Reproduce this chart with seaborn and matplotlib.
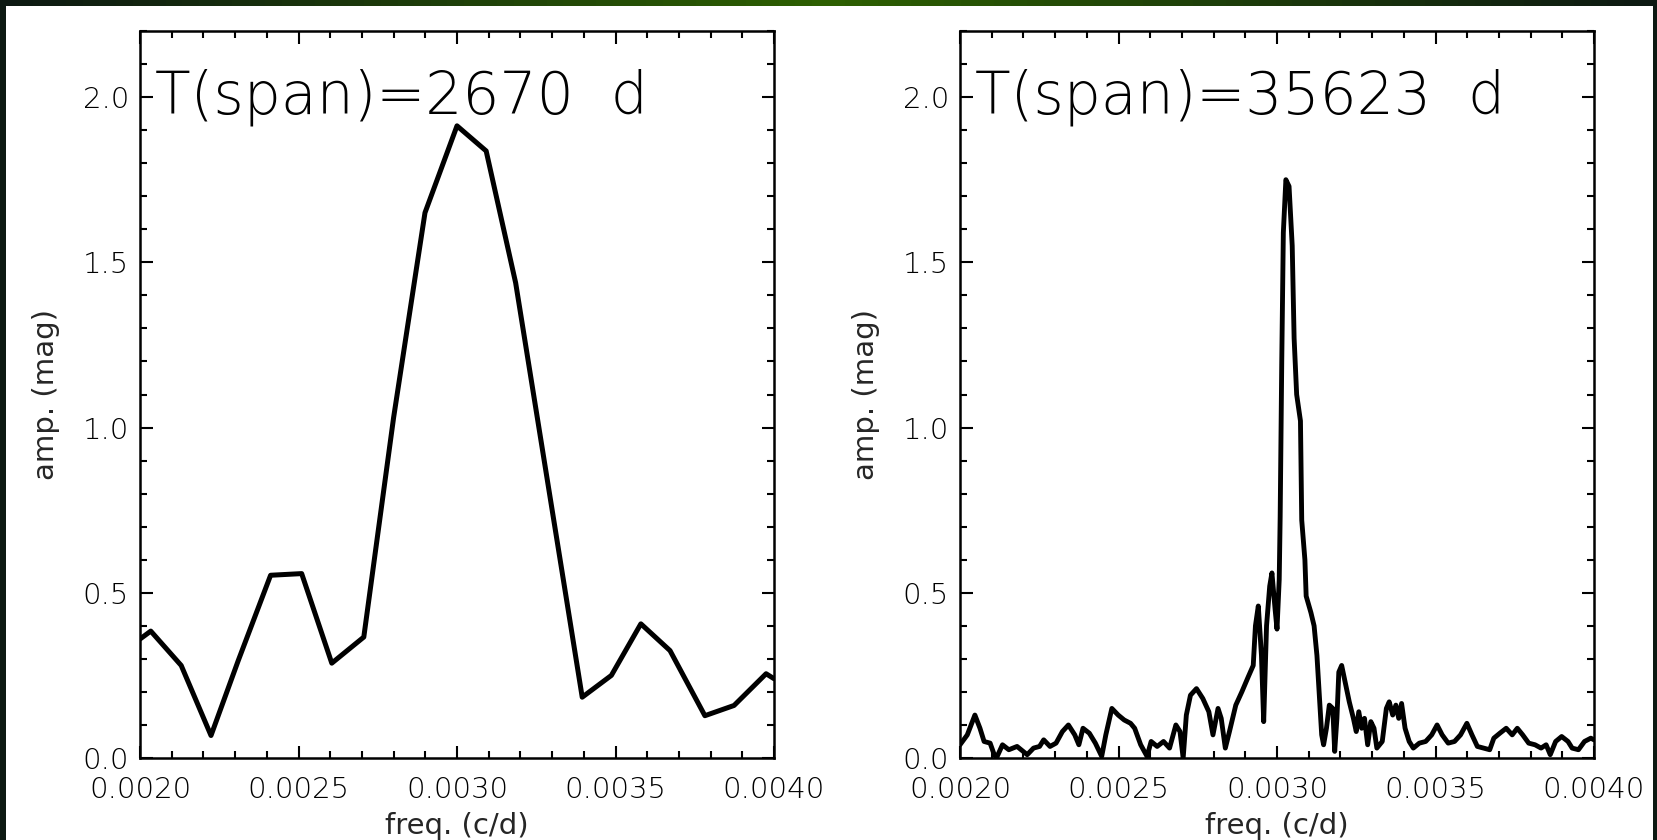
import numpy as np
import pandas as pd
import matplotlib
matplotlib.use("Agg")
import matplotlib.pyplot as plt
from matplotlib.patches import Rectangle
from matplotlib.ticker import MultipleLocator, FormatStrFormatter
import seaborn as sns

# Amplitude spectra, short (2670 d) and long (35623 d) time span
freq_short = [0.002000, 0.002034, 0.002130, 0.002224, 0.002310, 0.002412, 0.002510,
              0.002605, 0.002706, 0.002800, 0.002899, 0.003000, 0.003092, 0.003185,
              0.003395, 0.003487, 0.003580, 0.003672, 0.003782, 0.003874, 0.003975,
              0.004000]
amp_short = [0.36, 0.384, 0.28, 0.068, 0.295, 0.553, 0.558,
             0.287, 0.366, 1.03, 1.65, 1.913, 1.837, 1.438,
             0.184, 0.25, 0.406, 0.325, 0.128, 0.159, 0.255,
             0.24]

freq_long = [0.002000, 0.002023, 0.002047, 0.002063, 0.002076, 0.002095, 0.002108,
             0.002115, 0.002134, 0.002154, 0.002180, 0.002199, 0.002212, 0.002232,
             0.002251, 0.002264, 0.002284, 0.002303, 0.002323, 0.002342, 0.002362,
             0.002375, 0.002388, 0.002408, 0.002427, 0.002447, 0.002460, 0.002479,
             0.002499, 0.002518, 0.002538, 0.002551, 0.002570, 0.002590, 0.002603,
             0.002622, 0.002642, 0.002661, 0.002681, 0.002694, 0.002704, 0.002714,
             0.002727, 0.002746, 0.002766, 0.002785, 0.002798, 0.002814, 0.002824,
             0.002837, 0.002850, 0.002870, 0.002889, 0.002909, 0.002925, 0.002932,
             0.002941, 0.002951, 0.002958, 0.002967, 0.002977, 0.002984, 0.002994,
             0.003000, 0.003007, 0.003010, 0.003015, 0.003020, 0.003028, 0.003038,
             0.003048, 0.003054, 0.003062, 0.003074, 0.003078, 0.003088, 0.003092,
             0.003107, 0.003117, 0.003126, 0.003133, 0.003141, 0.003147, 0.003156,
             0.003165, 0.003176, 0.003182, 0.003189, 0.003195, 0.003204, 0.003215,
             0.003228, 0.003241, 0.003250, 0.003258, 0.003267, 0.003276, 0.003286,
             0.003296, 0.003306, 0.003315, 0.003332, 0.003345, 0.003354, 0.003365,
             0.003375, 0.003384, 0.003393, 0.003404, 0.003417, 0.003430, 0.003449,
             0.003469, 0.003488, 0.003505, 0.003521, 0.003540, 0.003560, 0.003579,
             0.003599, 0.003615, 0.003632, 0.003651, 0.003671, 0.003684, 0.003703,
             0.003723, 0.003742, 0.003758, 0.003775, 0.003794, 0.003814, 0.003833,
             0.003849, 0.003862, 0.003879, 0.003898, 0.003918, 0.003931, 0.003951,
             0.003970, 0.003990, 0.004000]
amp_long = [0.04, 0.07, 0.13, 0.09, 0.05, 0.045, 0.01,
            0.0, 0.04, 0.025, 0.035, 0.02, 0.01, 0.03,
            0.035, 0.055, 0.035, 0.045, 0.08, 0.10, 0.07,
            0.04, 0.09, 0.075, 0.045, 0.005, 0.07, 0.15,
            0.13, 0.115, 0.105, 0.09, 0.04, 0.005, 0.05,
            0.035, 0.05, 0.03, 0.10, 0.08, 0.0, 0.13,
            0.19, 0.21, 0.18, 0.14, 0.07, 0.15, 0.12,
            0.03, 0.08, 0.16, 0.20, 0.245, 0.28, 0.40,
            0.46, 0.31, 0.11, 0.40, 0.52, 0.56, 0.45,
            0.39, 0.54, 0.73, 1.20, 1.59, 1.75, 1.73,
            1.55, 1.27, 1.10, 1.02, 0.72, 0.60, 0.49,
            0.44, 0.40, 0.31, 0.20, 0.07, 0.04, 0.09,
            0.16, 0.15, 0.02, 0.12, 0.26, 0.28, 0.23,
            0.17, 0.12, 0.08, 0.14, 0.09, 0.12, 0.04,
            0.11, 0.09, 0.03, 0.05, 0.15, 0.17, 0.13,
            0.16, 0.12, 0.165, 0.09, 0.05, 0.03, 0.045,
            0.05, 0.07, 0.10, 0.07, 0.045, 0.05, 0.07,
            0.105, 0.07, 0.035, 0.03, 0.025, 0.06, 0.075,
            0.09, 0.07, 0.09, 0.07, 0.045, 0.04, 0.03,
            0.04, 0.01, 0.05, 0.065, 0.05, 0.03, 0.025,
            0.05, 0.06, 0.055]

panels = [
    ("T(span)=2670  d", freq_short, amp_short, 3.6),
    ("T(span)=35623  d", freq_long, amp_long, 3.5),
]

sns.set_style("ticks")
plt.rcParams['font.family'] = ['DejaVu Sans']
plt.rcParams['font.weight'] = 'light'

W, H = 1657, 840
fig = plt.figure(figsize=(W / 100, H / 100), dpi=100)
fig.patch.set_facecolor('#0d1912')

# white page behind everything
fig.patches.append(Rectangle((6 / W, 0), (W - 10) / W, (H - 6) / H,
                             transform=fig.transFigure, facecolor='white',
                             edgecolor='none', zorder=-10))

# top band gradient (dark -> green -> dark)
band = fig.add_axes([0, 1 - 6 / H, 1, 6 / H])
grad = np.concatenate([np.linspace(0, 1, 50), np.linspace(1, 0, 50)])
band.imshow(grad[None, :], aspect='auto',
            cmap=matplotlib.colors.LinearSegmentedColormap.from_list('g', ['#0d1912', '#2d5f02']))
band.set_axis_off()

lefts = [140, 960]
for (title, fx, fy, lw), lpx in zip(panels, lefts):
    ax = fig.add_axes([lpx / W, (H - 758) / H, 634 / W, 727 / H])
    ax.set_facecolor('white')
    df = pd.DataFrame({'freq': fx, 'amp': fy})
    sns.lineplot(data=df, x='freq', y='amp', ax=ax, color='black',
                 linewidth=lw, estimator=None, sort=False)
    ax.set_xlim(0.002, 0.004)
    ax.set_ylim(0, 2.2)
    ax.xaxis.set_major_locator(MultipleLocator(0.0005))
    ax.xaxis.set_minor_locator(MultipleLocator(0.0001))
    ax.yaxis.set_major_locator(MultipleLocator(0.5))
    ax.yaxis.set_minor_locator(MultipleLocator(0.1))
    ax.xaxis.set_major_formatter(FormatStrFormatter('%.4f'))
    ax.yaxis.set_major_formatter(FormatStrFormatter('%.1f'))
    ax.tick_params(which='both', direction='in', top=True, right=True,
                   width=1.5, colors='black')
    ax.tick_params(which='major', length=9)
    ax.tick_params(which='minor', length=5)
    ax.tick_params(axis='x', which='major', labelsize=21, pad=13)
    ax.tick_params(axis='y', which='major', labelsize=21, pad=8)
    for sp in ax.spines.values():
        sp.set_linewidth(1.8)
        sp.set_color('black')
    ax.set_xlabel("freq. (c/d)", fontsize=21, labelpad=6)
    ax.set_ylabel("amp. (mag)", fontsize=21, labelpad=16)
    ax.text(0.024, 0.887, title, transform=ax.transAxes, fontsize=42,
            va='baseline', ha='left', color='black')

fig.savefig("out.png", dpi=100, facecolor=fig.get_facecolor())
